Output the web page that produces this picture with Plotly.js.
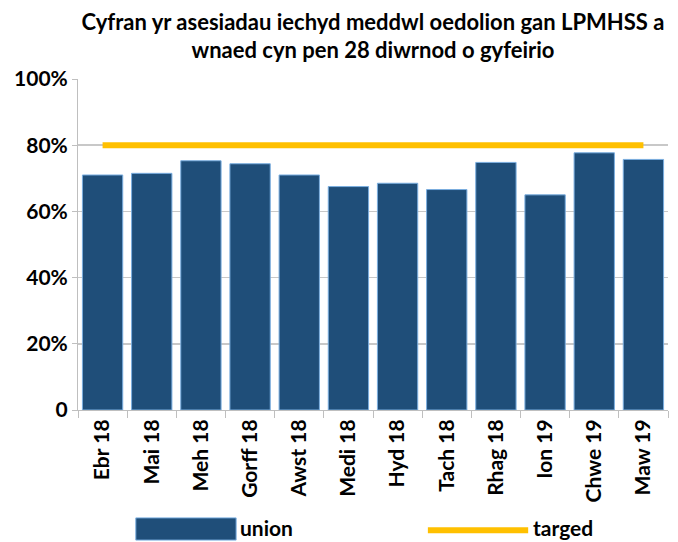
<!DOCTYPE html>
<html>
<head>
<meta charset="utf-8">
<script src="https://cdn.plot.ly/plotly-3.0.1.min.js"></script>
<style>html,body{margin:0;padding:0;background:#fff}#chart{width:678px;height:542px}</style>
</head>
<body>
<div id="chart"></div>
<script>
const months = ["Ebr 18","Mai 18","Meh 18","Gorff 18","Awst 18","Medi 18","Hyd 18","Tach 18","Rhag 18","Ion 19","Chwe 19","Maw 19"];
const unionValues = [71.0, 71.5, 75.3, 74.4, 71.0, 67.5, 68.5, 66.6, 74.8, 65.0, 77.7, 75.7];
const targetValues = [80, 80, 80, 80, 80, 80, 80, 80, 80, 80, 80, 80];
const seriesNames = ["union", "targed"];
const yTickVals = [0, 20, 40, 60, 80, 100];
const yTickText = ["0", "20%", "40%", "60%", "80%", "100%"];
const titleText = "Cyfran yr asesiadau iechyd meddwl oedolion gan LPMHSS a<br>wnaed cyn pen 28 diwrnod o gyfeirio";

const FONT = "Lato, 'Open Sans', sans-serif";
const barColor = "#1F4E79";
const lineColor = "#FFC000";

const traces = [
  {
    type: "bar", x: months, y: unionValues, name: seriesNames[0],
    marker: {color: barColor, line: {color: "#7AAEE0", width: 1}},
    showlegend: false, hoverinfo: "skip"
  },
  {
    type: "scatter", mode: "lines", x: months, y: targetValues, name: seriesNames[1],
    line: {color: lineColor, width: 6}, showlegend: false, hoverinfo: "skip"
  }
];

const layout = {
  width: 678, height: 542,
  margin: {l: 78, r: 10, t: 79, b: 132},
  paper_bgcolor: "#fff", plot_bgcolor: "#fff",
  font: {family: FONT, color: "#000", size: 21},
  bargap: 0.18,
  title: {
    text: "<b>" + titleText + "</b>",
    font: {family: FONT, size: 22, color: "#000"},
    x: 0.5, xref: "paper", xanchor: "center",
    y: 0.945, yref: "container", yanchor: "middle"
  },
  xaxis: {
    type: "category", tickangle: -90,
    tickfont: {family: FONT, size: 21, color: "#000", weight: "bold"},
    ticks: "outside", tickson: "boundaries", ticklen: 7, tickcolor: "#BFBFBF",
    showline: true, linecolor: "#BFBFBF", linewidth: 1,
    showgrid: false, zeroline: false
  },
  yaxis: {
    range: [0, 100], tickvals: yTickVals, ticktext: yTickText,
    tickfont: {family: FONT, size: 21, color: "#000", weight: "bold"},
    ticks: "outside", ticklen: 5, tickcolor: "#BFBFBF",
    showgrid: true, gridcolor: "#C8C8C8", gridwidth: 1.5,
    showline: true, linecolor: "#BFBFBF", linewidth: 1,
    zeroline: false, fixedrange: true
  },
  shapes: [
    {type: "rect", xref: "paper", yref: "paper", x0: 0.098, x1: 0.268, y0: -0.326, y1: -0.393,
     fillcolor: barColor, line: {color: "#7AAEE0", width: 1}},
    {type: "line", xref: "paper", yref: "paper", x0: 0.593, x1: 0.763, y0: -0.363, y1: -0.363,
     line: {color: lineColor, width: 6}}
  ],
  annotations: [
    {xref: "paper", yref: "paper", x: 0.272, y: -0.356, xanchor: "left", yanchor: "middle",
     text: "<b>" + seriesNames[0] + "</b>", showarrow: false, font: {family: FONT, size: 21, color: "#000"}},
    {xref: "paper", yref: "paper", x: 0.767, y: -0.356, xanchor: "left", yanchor: "middle",
     text: "<b>" + seriesNames[1] + "</b>", showarrow: false, font: {family: FONT, size: 21, color: "#000"}}
  ]
};

Plotly.newPlot("chart", traces, layout, {staticPlot: true, displayModeBar: false});
</script>
</body>
</html>
